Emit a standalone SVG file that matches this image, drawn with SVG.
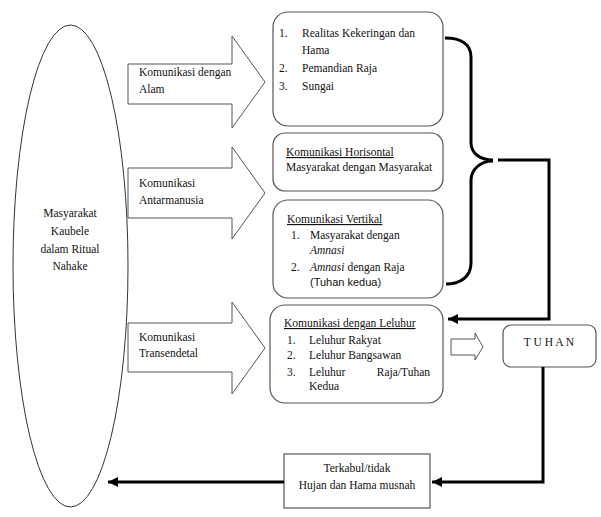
<svg xmlns="http://www.w3.org/2000/svg" width="601" height="517" viewBox="0 0 601 517">
<style>
.t{font-family:"Liberation Serif","Times New Roman",serif;font-size:11.5px;fill:#111}
.s{font-family:"Liberation Sans",Arial,sans-serif;font-size:11px;fill:#111}
.u{text-decoration:underline}
.i{font-style:italic}
.box{fill:#fff;stroke:#555;stroke-width:1.2}
.arr{fill:#fff;stroke:#555;stroke-width:1}
.con{fill:none;stroke:#000;stroke-width:3}
</style>
<defs>
<marker id="ah" markerUnits="userSpaceOnUse" markerWidth="12" markerHeight="10" refX="10" refY="5" orient="auto">
<path d="M0,0 L10,5 L0,10 Z" fill="#000"/>
</marker>
</defs>
<rect width="601" height="517" fill="#fff"/>
<g id="masyarakat">
<ellipse cx="70.5" cy="266" rx="57.5" ry="241" fill="#fff" stroke="#333" stroke-width="1"/>
<text class="t" text-anchor="middle" x="70" y="217">Masyarakat</text>
<text class="t" text-anchor="middle" x="70" y="235">Kaubele</text>
<text class="t" text-anchor="middle" x="70" y="253">dalam Ritual</text>
<text class="t" text-anchor="middle" x="70" y="270">Nahake</text>
</g>
<g id="arrow-alam">
<path class="arr" d="M128,64 L232,64 L232,36 L265,82 L232,128 L232,104 L128,104 Z"/>
<text class="t" x="139" y="76">Komunikasi dengan</text>
<text class="t" x="139" y="93">Alam</text>
</g>
<g id="arrow-antarmanusia">
<path class="arr" d="M128,168 L232,168 L232,147 L265,193 L232,239 L232,218 L128,218 Z"/>
<text class="t" x="139" y="187">Komunikasi</text>
<text class="t" x="139" y="204">Antarmanusia</text>
</g>
<g id="arrow-transendetal">
<path class="arr" d="M128,323 L232,323 L232,302 L265,348 L232,394 L232,372 L128,372 Z"/>
<text class="t" x="139" y="341">Komunikasi</text>
<text class="t" x="139" y="357">Transendetal</text>
</g>
<g id="box-alam">
<rect class="box" x="273" y="12" width="170" height="114" rx="15"/>
<text class="t" x="279" y="37">1.</text><text class="t" x="302" y="37">Realitas Kekeringan dan</text>
<text class="t" x="302" y="54">Hama</text>
<text class="t" x="279" y="72">2.</text><text class="t" x="302" y="72">Pemandian Raja</text>
<text class="t" x="279" y="90">3.</text><text class="t" x="302" y="90">Sungai</text>
</g>
<g id="box-horisontal">
<rect class="box" x="273" y="133" width="170" height="58" rx="12"/>
<text class="t u" x="286" y="156">Komunikasi Horisontal</text>
<text class="t" x="286" y="171">Masyarakat dengan Masyarakat</text>
</g>
<g id="box-vertikal">
<rect class="box" x="273" y="200" width="170" height="98" rx="15"/>
<text class="t u" x="287" y="223">Komunikasi Vertikal</text>
<text class="t" x="291" y="239">1.</text><text class="t" x="310" y="239">Masyarakat dengan</text>
<text class="t i" x="310" y="254">Amnasi</text>
<text class="t" x="291" y="271">2.</text><text class="t" x="310" y="271"><tspan class="i">Amnasi</tspan> dengan Raja</text>
<text class="s" x="310" y="286">(Tuhan kedua)</text>
</g>
<g id="box-leluhur">
<rect class="box" x="270" y="305" width="173" height="98" rx="15"/>
<text class="t u" x="284" y="327">Komunikasi dengan Leluhur</text>
<text class="t" x="287" y="344">1.</text><text class="t" x="309" y="344">Leluhur Rakyat</text>
<text class="t" x="287" y="359">2.</text><text class="t" x="309" y="359">Leluhur Bangsawan</text>
<text class="t" x="287" y="376">3.</text><text class="t" x="309" y="376">Leluhur</text><text class="t" x="430" y="376" text-anchor="end">Raja/Tuhan</text>
<text class="t" x="309" y="390">Kedua</text>
</g>
<g id="small-arrow">
<path class="arr" d="M451,339 L475,339 L475,333 L483,347 L475,360 L475,355 L451,355 Z"/>
</g>
<g id="tuhan">
<rect class="box" x="503" y="325" width="93" height="42" rx="8"/>
<text class="t" x="549" y="346" text-anchor="middle">T U H A N</text>
</g>
<g id="terkabul">
<rect class="box" x="284" y="454" width="146" height="54" stroke="#333"/>
<text class="t" x="357" y="472" text-anchor="middle">Terkabul/tidak</text>
<text class="t" x="357" y="489" text-anchor="middle">Hujan dan Hama musnah</text>
</g>
<g id="connectors">
<path class="con" d="M445,38 C462,38 471,45 471,57 L471,143 C471,153 480,160 493,160"/>
<path class="con" d="M493,161 C480,161 471,170 471,180 L471,263 C471,277 460,284 446,284"/>
<path class="con" d="M498,160 L549,160 L549,319 L448,319" marker-end="url(#ah)"/>
<path class="con" d="M543,367 L543,482 L432,482" marker-end="url(#ah)"/>
<path class="con" d="M284,482 L108,482" marker-end="url(#ah)"/>
</g>
</svg>
